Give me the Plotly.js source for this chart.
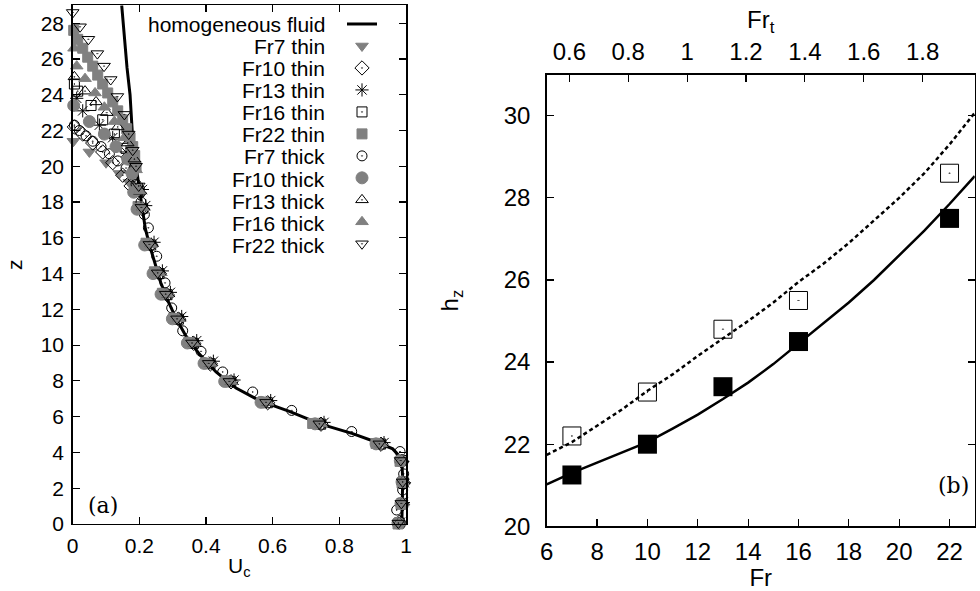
<!DOCTYPE html>
<html>
<head>
<meta charset="utf-8">
<script src="https://cdn.plot.ly/plotly-3.0.1.min.js"></script>
<style>html,body{margin:0;padding:0;background:#fff;}#chart{width:980px;height:591px;}</style>
</head>
<body>
<div id="chart"></div>
<script>
// ---------- Panel (a): velocity profiles ----------
const uHom = [0.147,0.155,0.163,0.172,0.177,0.180,0.186,0.194,0.200,0.208,0.218,0.232,0.247,0.264,0.285,0.310,0.340,0.380,0.430,0.490,0.560,0.650,0.742,0.840,0.922,0.960,0.980,0.988,0.990,0.990,0.988,0.987];
const zHom = [29.0,27.0,25.5,24.0,22.5,21.5,20.5,19.5,18.5,17.5,16.5,15.5,14.5,13.5,12.5,11.5,10.5,9.5,8.5,7.6,6.9,6.3,5.6,5.05,4.5,4.2,3.8,3.3,2.5,1.5,0.5,0.0];

const uFr7thin = [0.002,0.05,0.1,0.14,0.17,0.197,0.207,0.232,0.257,0.281,0.315,0.36,0.41,0.472,0.582,0.742,0.922,0.985,0.99,0.987,0.978];
const zFr7thin = [21.4,20.8,20.2,19.6,19.1,18.62,17.69,15.63,14.04,12.85,11.47,10.12,8.98,7.97,6.8,5.6,4.48,3.55,2.35,1.15,0.05];

const uFr10thin = [0.005,0.03,0.06,0.09,0.12,0.15,0.175,0.2,0.21,0.235,0.26,0.284,0.318,0.363,0.413,0.475,0.585,0.745,0.925,0.987,0.992,0.989,0.98];
const zFr10thin = [22.2,21.8,21.3,20.8,20.2,19.5,18.9,18.5,17.6,15.6,14.0,12.8,11.45,10.1,8.95,7.95,6.78,5.58,4.46,3.5,2.3,1.1,0.1];

const uFr13thin = [0.012,0.03,0.08,0.12,0.16,0.185,0.209,0.219,0.244,0.269,0.293,0.327,0.372,0.422,0.484,0.594,0.754,0.934,0.99,0.995,0.992,0.983];
const zFr13thin = [23.8,23.1,22.3,21.6,20.8,19.9,18.7,17.8,15.75,14.15,12.95,11.6,10.25,9.1,8.05,6.9,5.68,4.55,3.5,2.3,1.2,0.1];

const uFr16thin = [0.005,0.015,0.055,0.09,0.125,0.16,0.185,0.199,0.209,0.234,0.259,0.283,0.317,0.362,0.412,0.474,0.584,0.744,0.924,0.986,0.991,0.988,0.979];
const zFr16thin = [24.6,24.2,23.4,22.6,21.8,21.0,20.1,18.6,17.65,15.6,14.0,12.82,11.45,10.1,8.96,7.95,6.78,5.58,4.47,3.55,2.35,1.15,0.05];

const uFr22thin = [0.003,0.015,0.03,0.045,0.06,0.075,0.09,0.105,0.12,0.135,0.15,0.162,0.172,0.18,0.186,0.19,0.187,0.196,0.22,0.245,0.269,0.303,0.348,0.398,0.46,0.57,0.72,0.91,0.982,0.988,0.985,0.976];
const zFr22thin = [27.6,27.1,26.6,26.1,25.6,25.1,24.6,24.1,23.6,23.1,22.6,22.1,21.6,21.1,20.6,20.0,18.7,17.75,15.7,14.1,12.9,11.5,10.15,9.0,8.0,6.82,5.62,4.5,3.5,2.3,1.1,0.0];

const uFr7thick = [0.005,0.02,0.04,0.06,0.085,0.11,0.135,0.16,0.18,0.19,0.205,0.215,0.227,0.252,0.277,0.297,0.33,0.385,0.45,0.54,0.657,0.837,0.982,0.993,0.99,0.972];
const zFr7thick = [22.3,22.0,21.7,21.4,21.1,20.7,20.3,19.9,19.4,19.0,18.0,17.3,16.56,14.97,13.48,12.08,10.8,9.65,8.5,7.38,6.35,5.17,4.05,2.8,1.9,0.78];

const uFr10thick = [0.003,0.05,0.095,0.13,0.165,0.178,0.183,0.193,0.216,0.241,0.265,0.299,0.344,0.394,0.456,0.565,0.727,0.91,0.983,0.988,0.985,0.976];
const zFr10thick = [23.4,22.5,21.8,21.1,20.4,19.6,18.55,17.6,15.6,14.0,12.85,11.47,10.12,8.98,7.97,6.8,5.6,4.48,3.55,2.35,1.15,0.05];

const uFr13thick = [0.005,0.037,0.07,0.102,0.135,0.165,0.185,0.201,0.211,0.236,0.261,0.285,0.319,0.364,0.414,0.476,0.586,0.746,0.926,0.988,0.992,0.99,0.98];
const zFr13thick = [25.0,24.2,23.6,23.0,22.2,21.3,20.4,18.6,17.7,15.65,14.05,12.85,11.48,10.12,8.98,7.97,6.8,5.6,4.48,3.58,2.38,1.18,0.08];

const uFr16thick = [0.004,0.012,0.037,0.067,0.095,0.125,0.155,0.18,0.19,0.2,0.21,0.235,0.26,0.284,0.318,0.363,0.413,0.475,0.585,0.745,0.925,0.987,0.991,0.989,0.98];
const zFr16thick = [26.6,25.6,24.9,24.1,23.3,22.5,21.6,20.7,19.8,18.62,17.69,15.63,14.04,12.85,11.47,10.12,8.98,7.97,6.8,5.6,4.48,3.55,2.35,1.15,0.05];

const uFr22thick = [0.0,0.022,0.047,0.074,0.094,0.114,0.134,0.155,0.168,0.18,0.19,0.198,0.206,0.23,0.255,0.279,0.313,0.358,0.408,0.47,0.58,0.74,0.92,0.984,0.99,0.986,0.977];
const zFr22thick = [28.6,27.8,27.1,26.3,25.6,24.85,23.9,22.9,21.8,20.9,20.0,18.9,17.7,15.63,14.04,12.85,11.47,10.12,8.98,7.97,6.8,5.6,4.48,3.55,2.35,1.15,0.05];

const legendLabels = ['homogeneous fluid','Fr7 thin','Fr10 thin','Fr13 thin','Fr16 thin','Fr22 thin',
                      'Fr7 thick','Fr10 thick','Fr13 thick','Fr16 thick','Fr22 thick'];

// ---------- Panel (b): h_z vs Fr ----------
const frPts = [7,10,13,16,22];
const hzThin = [21.25,22.0,23.4,24.5,27.5];
const hzThick = [22.2,23.27,24.8,25.5,28.6];
const frCurve = [6,7,8,9,10,11,12,13,14,15,16,17,18,19,20,21,22,23];
const hzCurveSolid = [21.02,21.3,21.55,21.8,22.05,22.38,22.72,23.1,23.5,23.95,24.45,24.95,25.45,26.0,26.6,27.2,27.85,28.53];
const hzCurveDash = [21.74,22.05,22.45,22.85,23.3,23.7,24.15,24.57,25.0,25.45,25.95,26.4,26.9,27.45,28.0,28.6,29.3,30.07];
const frtRange = [0.523,1.977];

const GRAY = '#808080';
const FONT = 'Liberation Sans, Arial, sans-serif';
const SERIF = 'DejaVu Serif, Liberation Serif, serif';

function mk(name, u, z, symbol, color, size) {
  return {
    type: 'scatter', mode: 'markers', name: name, x: u, y: z,
    xaxis: 'x', yaxis: 'y', cliponaxis: false,
    marker: {symbol: symbol, color: color, size: size, line: {color: color, width: 1}}
  };
}

const traces = [
  {type:'scatter', mode:'lines', name:'homogeneous fluid', x:uHom, y:zHom, xaxis:'x', yaxis:'y',
   line:{color:'#000', width:3}},
  mk('Fr7 thin', uFr7thin, zFr7thin, 'triangle-down', GRAY, 11),
  mk('Fr10 thin', uFr10thin, zFr10thin, 'diamond-open-dot', '#000', 11),
  mk('Fr13 thin', uFr13thin, zFr13thin, 'asterisk-open', '#000', 11),
  mk('Fr16 thin', uFr16thin, zFr16thin, 'square-open-dot', '#000', 10),
  mk('Fr22 thin', uFr22thin, zFr22thin, 'square', GRAY, 10),
  mk('Fr7 thick', uFr7thick, zFr7thick, 'circle-open-dot', '#000', 10),
  mk('Fr10 thick', uFr10thick, zFr10thick, 'circle', GRAY, 12),
  mk('Fr13 thick', uFr13thick, zFr13thick, 'triangle-up-open-dot', '#000', 11),
  mk('Fr16 thick', uFr16thick, zFr16thick, 'triangle-up', GRAY, 11),
  mk('Fr22 thick', uFr22thick, zFr22thick, 'triangle-down-open-dot', '#000', 11),
  {type:'scatter', mode:'lines', x:frCurve, y:hzCurveDash, xaxis:'x2', yaxis:'y2', showlegend:false,
   line:{color:'#000', width:2.5, dash:'4px,3px'}},
  {type:'scatter', mode:'lines', x:frCurve, y:hzCurveSolid, xaxis:'x2', yaxis:'y2', showlegend:false,
   line:{color:'#000', width:2.5}},
  {type:'scatter', mode:'markers', x:frPts, y:hzThick, xaxis:'x2', yaxis:'y2', showlegend:false, cliponaxis:false,
   marker:{symbol:'square-open-dot', size:18, color:'#000', line:{color:'#000', width:1}}},
  {type:'scatter', mode:'markers', x:frPts, y:hzThin, xaxis:'x2', yaxis:'y2', showlegend:false, cliponaxis:false,
   marker:{symbol:'square', size:19, color:'#000'}},
  // carrier trace so the top Fr_t axis is drawn (invisible)
  {type:'scatter', mode:'markers', x:frtRange.slice(), y:[20,20], xaxis:'x3', yaxis:'y2', showlegend:false,
   hoverinfo:'skip', marker:{opacity:0, size:1}}
];

// legend sample names are drawn as right-aligned text (gnuplot style)
traces.forEach(function(t){ if (t.name !== undefined) { t.name = ' '; } });

const axBase = {
  showgrid:false, zeroline:false, showline:true, linecolor:'#000', linewidth:1.5,
  ticks:'inside', ticklen:7, tickwidth:1.2, tickcolor:'#000', autorange:false
};

const annotations = [
  {xref:'x', yref:'y', x:0.09, y:1.05, text:'(a)', showarrow:false,
   font:{family:SERIF, size:22, color:'#000'}},
  {xref:'x2', yref:'y2', x:22.15, y:21.0, text:'(b)', showarrow:false,
   font:{family:SERIF, size:22, color:'#000'}}
];
legendLabels.forEach(function(lbl, i){
  annotations.push({xref:'paper', yref:'paper', x:327/980, xanchor:'right',
    y:1 - (24.3 + i*22.1)/591, yanchor:'middle', text:lbl, showarrow:false,
    font:{family:FONT, size:21, color:'#000'}});
});

const layout = {
  width:980, height:591,
  margin:{l:0, r:0, t:0, b:0},
  paper_bgcolor:'#fff', plot_bgcolor:'#fff',
  font:{family:FONT, color:'#000', size:21},
  showlegend:true,
  legend:{x:342/980, xanchor:'left', y:1 - 8/591, yanchor:'top', bgcolor:'rgba(0,0,0,0)',
          font:{family:FONT, size:14.6, color:'#000'}, tracegroupgap:0, itemwidth:30},
  xaxis: Object.assign({}, axBase, {
    domain:[0.0742,0.4143], anchor:'y', range:[0,1], tick0:0, dtick:0.2, mirror:'ticks',
    tickfont:{size:21}, ticklabelstandoff:2,
    title:{text:'U<sub>c</sub>', font:{size:21}, standoff:2}
  }),
  yaxis: Object.assign({}, axBase, {
    domain:[0.1134,0.991], anchor:'x', range:[0,29], tick0:0, dtick:2, mirror:'ticks',
    tickfont:{size:21}, ticklabelstandoff:3,
    title:{text:'z', font:{size:21}, standoff:12}
  }),
  xaxis2: Object.assign({}, axBase, {
    domain:[0.5579,0.9946], anchor:'y2', range:[6,23], tick0:6, dtick:2, mirror:false,
    tickfont:{size:24}, ticklabelstandoff:3,
    title:{text:'Fr', font:{size:24}, standoff:0}
  }),
  xaxis3: Object.assign({}, axBase, {
    overlaying:'x2', side:'top', anchor:'y2', range:[frtRange[0], frtRange[1]], tick0:0.6, dtick:0.2,
    tickfont:{size:24}, ticklabelstandoff:4,
    title:{text:'Fr<sub>t</sub>', font:{size:24}, standoff:2}
  }),
  yaxis2: Object.assign({}, axBase, {
    domain:[0.1095,0.8736], anchor:'x2', range:[20,31], tick0:20, dtick:2, mirror:'ticks',
    tickfont:{size:24}, ticklabelstandoff:10,
    title:{text:'h<sub>z</sub>', font:{size:24}, standoff:38}
  }),
  annotations: annotations
};

Plotly.newPlot('chart', traces, layout, {displayModeBar:false, staticPlot:true});
</script>
</body>
</html>
